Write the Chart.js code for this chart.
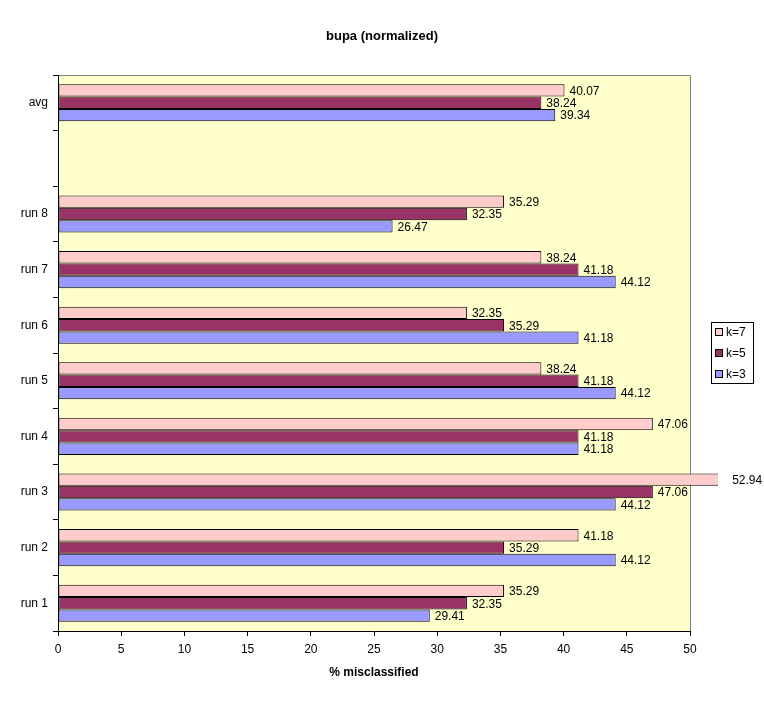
<!DOCTYPE html>
<html>
<head>
<meta charset="utf-8">
<script src="https://cdn.jsdelivr.net/npm/chart.js@4/dist/chart.umd.min.js"></script>
<style>
  html, body { margin: 0; padding: 0; background: #fff; }
  #wrap { width: 764px; height: 702px; }
</style>
</head>
<body>
<div id="wrap"><canvas id="chart" width="764" height="702"></canvas></div>
<script>
// categories, top to bottom (blank slot between avg and run 8)
const categories = ['avg', '', 'run 8', 'run 7', 'run 6', 'run 5', 'run 4', 'run 3', 'run 2', 'run 1'];

const k7 = [40.07, null, 35.29, 38.24, 32.35, 38.24, 47.06, 52.94, 41.18, 35.29];
const k5 = [38.24, null, 32.35, 41.18, 35.29, 41.18, 41.18, 47.06, 35.29, 32.35];
const k3 = [39.34, null, 26.47, 44.12, 41.18, 44.12, 41.18, 44.12, 44.12, 29.41];

const xTicks = [0, 5, 10, 15, 20, 25, 30, 35, 40, 45, 50];

const FONT = 'Arial, "Liberation Sans", sans-serif';

// yellow plot area + grey top/right frame
const plotArea = {
  id: 'plotArea',
  beforeDraw(chart) {
    const { ctx, chartArea: a } = chart;
    ctx.save();
    ctx.fillStyle = '#FFFFCC';
    ctx.fillRect(a.left, a.top, a.right - a.left, a.bottom - a.top);
    ctx.strokeStyle = '#808080';
    ctx.lineWidth = 1;
    ctx.beginPath();
    ctx.moveTo(a.left, a.top + 0.5);
    ctx.lineTo(a.right + 0.5, a.top + 0.5);
    ctx.lineTo(a.right + 0.5, a.bottom);
    ctx.stroke();
    ctx.restore();
  }
};

// titles, value labels and the boxed legend
const decorations = {
  id: 'decorations',
  afterDraw(chart) {
    const { ctx, chartArea: a } = chart;
    ctx.save();
    ctx.fillStyle = '#000';

    ctx.font = 'bold 13px ' + FONT;
    ctx.textAlign = 'center';
    ctx.textBaseline = 'middle';
    ctx.fillText('bupa (normalized)', chart.width / 2, 36);
    ctx.font = 'bold 12px ' + FONT;
    ctx.fillText('% misclassified', (a.left + a.right) / 2, 673);

    ctx.font = '12px ' + FONT;
    ctx.textAlign = 'left';
    chart.data.datasets.forEach((ds, i) => {
      chart.getDatasetMeta(i).data.forEach((el, j) => {
        const v = ds.data[j];
        if (v == null) return;
        ctx.fillText(v.toFixed(2), el.x + 5, el.y + 1);
      });
    });

    // legend
    const lx = 711, ly = 322, lw = 42, lh = 61;
    ctx.fillStyle = '#fff';
    ctx.fillRect(lx, ly, lw, lh);
    ctx.strokeStyle = '#000';
    ctx.lineWidth = 1;
    ctx.strokeRect(lx + 0.5, ly + 0.5, lw, lh);
    chart.data.datasets.forEach((ds, i) => {
      const y = ly + 10 + i * 21;
      ctx.fillStyle = ds.backgroundColor;
      ctx.fillRect(lx + 4.5, y - 3.5, 7, 7);
      ctx.strokeStyle = '#000';
      ctx.strokeRect(lx + 4.5, y - 3.5, 7, 7);
      ctx.fillStyle = '#000';
      ctx.fillText(ds.label, lx + 15, y + 1);
    });
    ctx.restore();
  }
};

// bars may run a little past the right edge of the plot, like the original
const barStyle = { borderColor: '#000', borderWidth: 1, borderSkipped: false,
  clip: { left: 0, top: 0, right: 28, bottom: 0 },
  categoryPercentage: 0.667, barPercentage: 1.0 };

new Chart(document.getElementById('chart'), {
  type: 'bar',
  data: {
    labels: categories,
    datasets: [
      { label: 'k=7', data: k7, backgroundColor: '#FFCCCC', ...barStyle },
      { label: 'k=5', data: k5, backgroundColor: '#993366', ...barStyle },
      { label: 'k=3', data: k3, backgroundColor: '#9999FF', ...barStyle },
    ]
  },
  options: {
    indexAxis: 'y',
    responsive: false,
    animation: false,
    layout: { padding: { top: 75, right: 74, bottom: 0, left: 0 } },
    plugins: {
      legend: { display: false },
      title: { display: false },
      tooltip: { enabled: false }
    },
    scales: {
      x: {
        min: 0,
        max: 50,
        afterBuildTicks(scale) { scale.ticks = xTicks.map(v => ({ value: v })); },
        afterFit(scale) { scale.height = 71; },
        border: { color: '#000', width: 1 },
        grid: { drawOnChartArea: false, color: '#000', tickLength: 5 },
        ticks: { color: '#000', padding: 6, font: { family: FONT, size: 12 } }
      },
      y: {
        afterFit(scale) { scale.width = 58; },
        border: { color: '#000', width: 1 },
        grid: { drawOnChartArea: false, color: '#000', tickLength: 5, offset: true },
        ticks: { color: '#000', padding: 5, font: { family: FONT, size: 12 } }
      }
    }
  },
  plugins: [plotArea, decorations]
});
</script>
</body>
</html>
